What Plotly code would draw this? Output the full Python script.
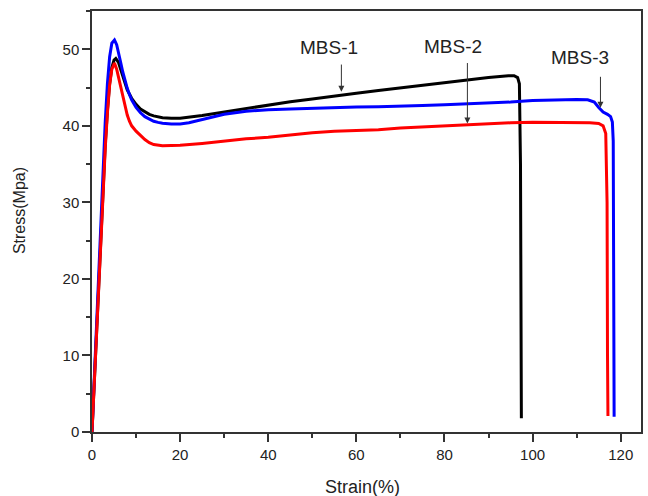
import plotly.graph_objects as go

# Tensile stress-strain curves for the three MBS samples
mbs1_strain = [0, 0.5, 1.0, 1.5, 2.0, 2.5, 3.0, 3.5, 4.0, 4.5, 5.0, 5.4, 6.0, 6.5, 7.0, 7.5,
               8.0, 9.0, 10, 11, 12, 13, 14, 15, 16, 18, 20, 25, 30, 35, 40, 45, 50, 55,
               60, 65, 70, 75, 80, 85, 90, 94.5, 95.8, 96.6, 97.0, 97.25, 97.35, 97.45]
mbs1_stress = [0, 6.5, 13, 19.5, 26, 32, 37.5, 42, 45.5, 47.6, 48.6, 48.8, 48.3, 47.4, 46.4, 45.5,
               44.7, 43.6, 42.8, 42.2, 41.8, 41.5, 41.3, 41.15, 41.05, 41.0, 41.0, 41.35, 41.8, 42.3,
               42.75, 43.15, 43.5, 43.9, 44.25, 44.6, 44.95, 45.3, 45.6, 45.95, 46.3, 46.55, 46.55,
               46.3, 45.5, 35, 15, 1.8]

mbs2_strain = [0, 0.5, 1.0, 1.5, 2.0, 2.5, 3.0, 3.5, 4.0, 4.5, 5.1, 5.6, 6.0, 6.5, 7.0, 7.5,
               8.0, 8.5, 9.0, 10, 11, 12, 13, 14, 16, 18, 20, 25, 30, 35, 40, 45, 50, 55,
               60, 65, 70, 75, 80, 85, 90, 95, 100, 105, 110, 113, 115, 116, 116.6, 116.9,
               117.0, 117.1]
mbs2_stress = [0, 6.3, 12.6, 19, 25.3, 31.5, 37, 41.7, 45.3, 47.4, 48.2, 47.4, 46.4, 45.0, 43.6, 42.4,
               41.4, 40.6, 40.0, 39.3, 38.7, 38.2, 37.8, 37.55, 37.4, 37.4, 37.45, 37.7, 38.0, 38.3,
               38.5, 38.8, 39.1, 39.3, 39.4, 39.5, 39.7, 39.85, 40.05, 40.2, 40.3, 40.4, 40.45,
               40.45, 40.45, 40.4, 40.3, 40.0, 39.0, 30, 10, 2.1]

mbs3_strain = [0, 0.5, 1.0, 1.5, 2.0, 2.5, 3.0, 3.5, 4.0, 4.5, 5.1, 5.6, 6.0, 6.5, 7.0, 7.5,
               8.0, 8.5, 9.0, 10, 11, 12, 13, 14, 15, 16, 18, 20, 22, 25, 30, 35, 40, 45,
               50, 55, 60, 65, 70, 75, 80, 85, 90, 95, 100, 105, 110, 112.5, 114, 115, 116,
               117, 117.7, 118.1, 118.3, 118.4, 118.5]
mbs3_stress = [0, 7, 14, 21, 28, 34.5, 40.5, 45.5, 49, 50.8, 51.2, 50.6, 49.7, 48.3, 47.0, 45.8,
               44.9, 44.1, 43.4, 42.4, 41.7, 41.2, 40.85, 40.6, 40.45, 40.35, 40.25, 40.25, 40.4,
               40.8, 41.5, 41.9, 42.1, 42.2, 42.3, 42.4, 42.45, 42.5, 42.55, 42.65, 42.75, 42.85,
               42.95, 43.1, 43.3, 43.4, 43.45, 43.4, 43.1, 42.4, 41.8, 41.5, 41.2, 40.5, 38, 20, 2.0]

x_ticks = [0, 20, 40, 60, 80, 100, 120]
y_ticks = [0, 10, 20, 30, 40, 50]

# Labels with arrows: (text, text x, text y, arrow x, arrow tail y, arrow head y)
labels = [
    ("MBS-1", 53.9, 50.2, 56.6, 48.2, 44.45),
    ("MBS-2", 82.0, 50.3, 85.2, 48.4, 40.3),
    ("MBS-3", 110.8, 48.9, 115.4, 46.6, 42.35),
]

FONT = "Liberation Sans, Arial, sans-serif"
AXIS_COLOR = "#333333"

fig = go.Figure()
for sx, sy, color, name in [
    (mbs1_strain, mbs1_stress, "#000000", "MBS-1"),
    (mbs3_strain, mbs3_stress, "#0000ff", "MBS-3"),
    (mbs2_strain, mbs2_stress, "#ff0000", "MBS-2"),
]:
    fig.add_trace(go.Scatter(x=sx, y=sy, mode="lines", name=name,
                             line=dict(color=color, width=3)))

annotations = []
for text, tx, ty, axx, tail_y, head_y in labels:
    annotations.append(dict(x=tx, y=ty, xref="x", yref="y", text=text, showarrow=False,
                            font=dict(family=FONT, size=19, color="#222222")))
    annotations.append(dict(x=axx, y=head_y, xref="x", yref="y", ax=axx, ay=tail_y,
                            axref="x", ayref="y", text="", showarrow=True,
                            arrowhead=2, arrowsize=1.2, arrowwidth=1, arrowcolor="#333333"))

annotations.append(dict(x=0.493, y=-0.131, xref="paper", yref="paper", text="Strain(%)",
                        showarrow=False, xanchor="center", yanchor="middle",
                        font=dict(family=FONT, size=18, color="#222222")))
annotations.append(dict(x=-0.133, y=0.527, xref="paper", yref="paper", text="Stress(Mpa)",
                        showarrow=False, textangle=-90, xanchor="center", yanchor="middle",
                        font=dict(family=FONT, size=16, color="#222222")))

axis_common = dict(
    showgrid=False, zeroline=False, showline=True, linecolor=AXIS_COLOR, linewidth=1.5,
    mirror=True, ticks="outside", tickcolor=AXIS_COLOR, tickwidth=1.5, ticklen=8,
    tickfont=dict(family=FONT, size=15, color="#222222"),
)

fig.update_layout(
    width=648, height=496,
    margin=dict(l=92, r=5, t=11, b=64),
    paper_bgcolor="white", plot_bgcolor="white",
    showlegend=False,
    annotations=annotations,
    xaxis=dict(range=[0, 124.6], tickvals=x_ticks,
               minor=dict(dtick=10, tick0=0, ticks="outside", ticklen=4,
                          tickcolor=AXIS_COLOR, tickwidth=1.5),
               **axis_common),
    yaxis=dict(range=[0, 55], tickvals=y_ticks,
               minor=dict(dtick=5, tick0=0, ticks="outside", ticklen=4,
                          tickcolor=AXIS_COLOR, tickwidth=1.5),
               **axis_common),
)

fig.write_html("out.html")
